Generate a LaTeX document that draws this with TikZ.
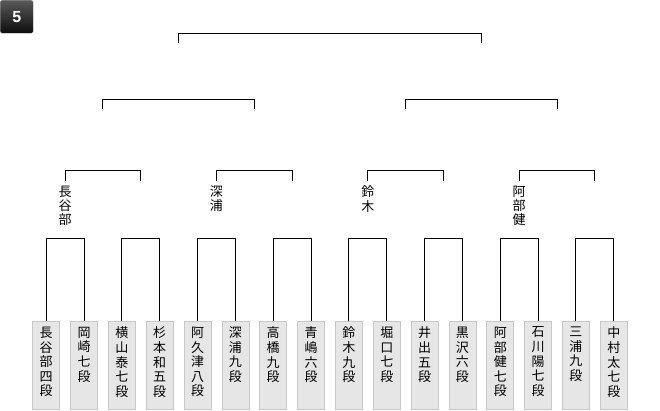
\documentclass[tikz,border=0pt]{standalone}
\usepackage{fontspec}
\setsansfont{Liberation Sans}
\newfontfamily\jpfont{Noto Sans CJK JP}
\usepackage{tikz}
\usetikzlibrary{positioning, calc}
\definecolor{boxfill}{HTML}{E6E6E6}
\definecolor{boxline}{HTML}{C8C8C8}

\begin{document}
\begin{tikzpicture}[x=1pt, y=-1pt,
  player/.style={draw=boxline, fill=boxfill, line width=0.8pt, outer sep=0pt, anchor=north, minimum width=27pt, inner xsep=6.5pt, inner ysep=6pt, font=\jpfont\fontsize{13}{14.6}\selectfont, execute at begin node={\begin{minipage}[t][76pt][t]{14pt}\centering}, execute at end node={\end{minipage}}},
  winner/.style={inner sep=5pt, outer sep=0pt, align=center, font=\jpfont\fontsize{13}{14.2}\selectfont},
  badge/.style={draw=gray!60, rounded corners=1.5pt, minimum size=33pt, top color=black!65, bottom color=black!95, text=white, font=\sffamily\bfseries\fontsize{16}{16}\selectfont},
  line/.style={-, line width=1pt, black}
]
\useasboundingbox (0,0) rectangle (660,410);

\node[badge, anchor=north west] (round) at (0,0) {5};

\node[player] (p1) at (46.2,321) {長\\谷\\部\\四\\段};
\node[player, right=10.84pt of p1] (p2) {岡\\崎\\七\\段};
\node[player, right=10.84pt of p2] (p3) {横\\山\\泰\\七\\段};
\node[player, right=10.84pt of p3] (p4) {杉\\本\\和\\五\\段};
\node[player, right=10.84pt of p4] (p5) {阿\\久\\津\\八\\段};
\node[player, right=10.84pt of p5] (p6) {深\\浦\\九\\段};
\node[player, right=10.84pt of p6] (p7) {高\\橋\\九\\段};
\node[player, right=10.84pt of p7] (p8) {青\\嶋\\六\\段};
\node[player, right=10.84pt of p8] (p9) {鈴\\木\\九\\段};
\node[player, right=10.84pt of p9] (p10) {堀\\口\\七\\段};
\node[player, right=10.84pt of p10] (p11) {井\\出\\五\\段};
\node[player, right=10.84pt of p11] (p12) {黒\\沢\\六\\段};
\node[player, right=10.84pt of p12] (p13) {阿\\部\\健\\七\\段};
\node[player, right=10.84pt of p13] (p14) {石\\川\\陽\\七\\段};
\node[player, right=10.84pt of p14] (p15) {三\\浦\\九\\段};
\node[player, right=10.84pt of p15] (p16) {中\\村\\太\\七\\段};

\draw[line] (p1.north) -- ++(0,-83) -| (p2.north);
\draw[line] (p3.north) -- ++(0,-83) -| (p4.north);
\draw[line] (p5.north) -- ++(0,-83) -| (p6.north);
\draw[line] (p7.north) -- ++(0,-83) -| (p8.north);
\draw[line] (p9.north) -- ++(0,-83) -| (p10.north);
\draw[line] (p11.north) -- ++(0,-83) -| (p12.north);
\draw[line] (p13.north) -- ++(0,-83) -| (p14.north);
\draw[line] (p15.north) -- ++(0,-83) -| (p16.north);

\coordinate (q1a) at ($(p1.north)!0.5!(p2.north) + (0,-140)$);
\coordinate (q1b) at ($(p3.north)!0.5!(p4.north) + (0,-140)$);
\coordinate (q2a) at ($(p5.north)!0.5!(p6.north) + (0,-140)$);
\coordinate (q2b) at ($(p7.north)!0.5!(p8.north) + (0,-140)$);
\coordinate (q3a) at ($(p9.north)!0.5!(p10.north) + (0,-140)$);
\coordinate (q3b) at ($(p11.north)!0.5!(p12.north) + (0,-140)$);
\coordinate (q4a) at ($(p13.north)!0.5!(p14.north) + (0,-140)$);
\coordinate (q4b) at ($(p15.north)!0.5!(p16.north) + (0,-140)$);

\node[winner, below=0pt of q1a] (w1) {長\\谷\\部};
\node[winner, below=0pt of q2a] (w2) {深\\浦};
\node[winner, below=0pt of q3a] (w3) {鈴\\木};
\node[winner, below=0pt of q4a] (w4) {阿\\部\\健};

\draw[line] (w1.north) -- ++(0,-11) -| (q1b);
\draw[line] (w2.north) -- ++(0,-11) -| (q2b);
\draw[line] (w3.north) -- ++(0,-11) -| (q3b);
\draw[line] (w4.north) -- ++(0,-11) -| (q4b);

\coordinate (s1a) at ($(q1a)!0.5!(q1b) + (0,-72)$);
\coordinate (s1b) at ($(q2a)!0.5!(q2b) + (0,-72)$);
\coordinate (s2a) at ($(q3a)!0.5!(q3b) + (0,-72)$);
\coordinate (s2b) at ($(q4a)!0.5!(q4b) + (0,-72)$);
\draw[line] (s1a) -- ++(0,-10) -| (s1b);
\draw[line] (s2a) -- ++(0,-10) -| (s2b);

\coordinate (fa) at ($(s1a)!0.5!(s1b) + (0,-66)$);
\coordinate (fb) at ($(s2a)!0.5!(s2b) + (0,-66)$);
\draw[line] (fa) -- ++(0,-10) -| (fb);
\end{tikzpicture}
\end{document}
